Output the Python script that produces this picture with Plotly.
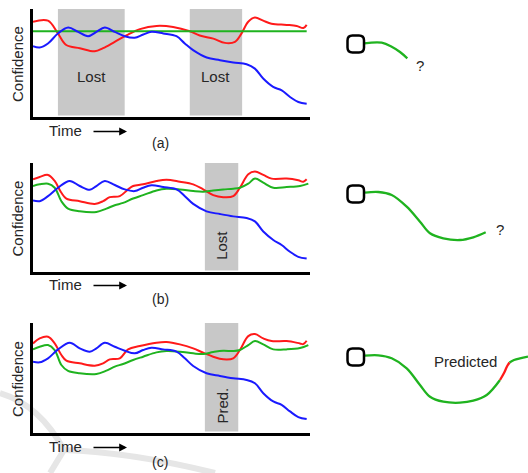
import plotly.graph_objects as go

W, H = 528, 473

# ---------------- time-series data (time 0..100, confidence 0..1) ----------------
# Panel (a)
a_red_t = [0, 5.4, 9.0, 12.0, 16.9, 22.3, 25.3, 29.5, 33.7, 38.6, 44.6, 50.6, 56.6, 60.2, 65.1, 69.3, 72.9, 75.3, 77.7, 80.1, 83.1, 86.1, 91.6, 95.2, 97.6, 98.8]
a_red_c = [0.90, 0.91, 0.79, 0.68, 0.65, 0.62, 0.65, 0.71, 0.77, 0.83, 0.86, 0.85, 0.81, 0.77, 0.74, 0.70, 0.71, 0.79, 0.90, 0.94, 0.91, 0.88, 0.87, 0.86, 0.84, 0.87]
a_green_t = [0, 98.8]
a_green_c = [0.81, 0.81]
a_blue_t = [0, 2.4, 5.4, 9.0, 12.7, 16.3, 19.9, 22.9, 25.9, 29.5, 33.1, 36.7, 39.8, 42.8, 47.0, 51.8, 54.8, 57.8, 62.7, 67.5, 72.3, 77.1, 80.1, 83.1, 86.7, 89.8, 92.8, 95.8, 98.8]
a_blue_c = [0.669, 0.656, 0.694, 0.789, 0.845, 0.804, 0.763, 0.804, 0.845, 0.804, 0.763, 0.748, 0.779, 0.804, 0.789, 0.763, 0.694, 0.631, 0.562, 0.536, 0.514, 0.498, 0.457, 0.363, 0.284, 0.252, 0.189, 0.142, 0.126]
a_boxes = [(9.0, 33.1, "Lost"), (56.6, 75.5, "Lost")]

# Panel (b)  (values in zoom-pixel units, converted below)
b_red_x = [100, 120, 145, 165, 185, 200, 240, 285, 310, 330, 360, 385, 400, 430, 470, 500, 540, 580, 610, 640, 670, 700, 720, 745, 765, 790, 815, 860, 895, 910, 920]
b_red_y = [75, 68, 62, 80, 115, 132, 140, 148, 140, 128, 125, 105, 95, 90, 80, 76, 82, 90, 105, 122, 128, 125, 100, 60, 52, 62, 73, 73, 78, 82, 75]
b_green_x = [100, 120, 145, 165, 185, 205, 240, 290, 320, 345, 370, 400, 430, 470, 500, 540, 580, 610, 640, 670, 700, 720, 745, 765, 790, 820, 860, 900, 925]
b_green_y = [95, 90, 88, 100, 140, 162, 170, 172, 162, 152, 145, 132, 122, 108, 103, 105, 110, 112, 108, 105, 103, 100, 88, 73, 85, 100, 98, 95, 88]
b_blue_x = [100, 120, 145, 175, 210, 240, 270, 290, 315, 345, 375, 405, 430, 455, 490, 530, 555, 580, 620, 660, 700, 740, 765, 790, 820, 845, 870, 895, 920]
b_blue_y = [138, 140, 125, 100, 80, 95, 106, 95, 80, 92, 105, 110, 100, 93, 98, 105, 125, 148, 170, 178, 185, 190, 200, 230, 255, 270, 290, 305, 310]
b_boxes = [(615, 715, "Lost")]

# Panel (c)
c_red_x = [100, 120, 145, 165, 185, 200, 240, 285, 310, 330, 360, 385, 420, 470, 500, 540, 580, 610, 640, 670, 700, 720, 745, 765, 790, 815, 860, 900, 910, 920]
c_red_y = [100, 85, 80, 100, 135, 152, 160, 167, 160, 148, 145, 118, 108, 98, 96, 103, 115, 128, 140, 148, 145, 120, 78, 72, 85, 93, 93, 100, 102, 92]
c_green_x = [100, 120, 145, 165, 185, 205, 240, 290, 320, 345, 370, 400, 430, 470, 500, 540, 580, 610, 640, 670, 700, 720, 745, 765, 790, 820, 860, 900, 925]
c_green_y = [118, 110, 105, 120, 165, 183, 190, 192, 182, 170, 162, 150, 140, 127, 123, 125, 130, 132, 126, 122, 123, 120, 105, 93, 103, 118, 118, 114, 105]
c_blue_x = [100, 120, 145, 175, 210, 240, 270, 290, 315, 345, 375, 405, 430, 455, 490, 530, 555, 580, 620, 660, 700, 740, 765, 790, 820, 845, 870, 895, 920]
c_blue_y = [155, 157, 145, 118, 98, 115, 125, 115, 98, 110, 122, 130, 120, 113, 118, 125, 145, 168, 190, 198, 205, 210, 220, 250, 275, 285, 305, 322, 328]
c_boxes = [(615, 715, "Pred.")]

# ---------------- trajectory data (page pixel units) ----------------
traj_a_x = [364.3, 381.7, 391.7, 400.0, 407.3]
traj_a_y = [43.3, 42.7, 46.7, 52.0, 58.3]
traj_b_x = [365.0, 378.3, 391.7, 406.7, 420.0, 430.0, 443.3, 460.0, 473.3, 485.7]
traj_b_y = [192.7, 192.0, 195.0, 206.7, 221.7, 233.3, 238.3, 240.0, 237.3, 232.3]
traj_c_x = [364.3, 378.3, 391.7, 406.7, 420.0, 430.0, 443.3, 460.0, 473.3, 486.7, 500.0]
traj_c_y = [355.7, 355.3, 358.3, 368.3, 385.0, 396.7, 401.7, 402.7, 400.7, 395.0, 380.0]
pred_c_x = [500.0, 504.0, 507.0, 509.5]
pred_c_y = [380.0, 373.0, 366.5, 362.5]
after_c_x = [509.5, 514.0, 520.0, 528.0]
after_c_y = [362.5, 360.0, 358.3, 356.7]

RED, GREEN, BLUE = "#ff1a1a", "#1fb31f", "#1a1aff"
BOXGREY = "#c8c8c8"
FONT = "Liberation Sans, Arial, sans-serif"
TXT = "#262626"


def zx_to_t(v):
    return [(x - 100) / 8.3 for x in v]


def zy_to_c(v, bottom, span):
    return [(bottom - y) / span for y in v]


panels = [
    dict(top=11, bottom=117,
         series=[(a_red_t, a_red_c, RED), (a_green_t, a_green_c, GREEN), (a_blue_t, a_blue_c, BLUE)],
         boxes=a_boxes, label="(a)", lab_y=143, time_y=130, rot=False),
    dict(top=165, bottom=272,
         series=[(zx_to_t(b_red_x), zy_to_c(b_red_y, 350, 317), RED),
                 (zx_to_t(b_green_x), zy_to_c(b_green_y, 350, 317), GREEN),
                 (zx_to_t(b_blue_x), zy_to_c(b_blue_y, 350, 317), BLUE)],
         boxes=[(zx_to_t([b[0]])[0], zx_to_t([b[1]])[0], b[2]) for b in b_boxes],
         label="(b)", lab_y=299, time_y=284, rot=True),
    dict(top=325, bottom=433,
         series=[(zx_to_t(c_red_x), zy_to_c(c_red_y, 370, 325), RED),
                 (zx_to_t(c_green_x), zy_to_c(c_green_y, 370, 325), GREEN),
                 (zx_to_t(c_blue_x), zy_to_c(c_blue_y, 370, 325), BLUE)],
         boxes=[(zx_to_t([b[0]])[0], zx_to_t([b[1]])[0], b[2]) for b in c_boxes],
         label="(c)", lab_y=462, time_y=446, rot=True),
]

fig = go.Figure()
shapes = []
annotations = []

# faint watermark arcs (decoration)
shapes.append(dict(type="path", xref="paper", yref="paper", layer="below",
                   path="M 0 %f Q %f %f %f %f" % (1 - 393 / H, 40 / W, 1 - 405 / H, 64 / W, 1 - 450 / H),
                   line=dict(color="#e6e6e6", width=6)))
shapes.append(dict(type="path", xref="paper", yref="paper", layer="below",
                   path="M %f %f Q %f %f %f %f" % (64 / W, 1 - 450 / H, 130 / W, 1 - 452 / H, 215 / W, 1 - 473 / H),
                   line=dict(color="#e6e6e6", width=6)))
shapes.append(dict(type="path", xref="paper", yref="paper", layer="below",
                   path="M %f %f L %f %f" % (64 / W, 1 - 450 / H, 50 / W, 1 - 473 / H),
                   line=dict(color="#e6e6e6", width=6)))

for i, p in enumerate(panels, start=1):
    xa = "xaxis" if i == 1 else "xaxis%d" % i
    ya = "yaxis" if i == 1 else "yaxis%d" % i
    xr = "x" if i == 1 else "x%d" % i
    yr = "y" if i == 1 else "y%d" % i
    fig.update_layout({
        xa: dict(domain=[33 / W, 310 / W], range=[0, 100], showline=True, linecolor="black", linewidth=2.5,
                 showgrid=False, zeroline=False, showticklabels=False, ticks="", anchor=yr, fixedrange=True),
        ya: dict(domain=[1 - p["bottom"] / H, 1 - (p["top"] - 2) / H], range=[0, 1.02], showline=True,
                 linecolor="black", linewidth=2.5, showgrid=False, zeroline=False, showticklabels=False,
                 ticks="", anchor=xr, fixedrange=True),
    })
    for (t0, t1, txt) in p["boxes"]:
        shapes.append(dict(type="rect", xref=xr, yref=yr, x0=t0, x1=t1, y0=0.015, y1=1.02,
                           fillcolor=BOXGREY, line=dict(width=0), layer="below"))
        annotations.append(dict(xref=xr, yref=yr, x=(t0 + t1) / 2, y=0.38 if not p["rot"] else 0.25,
                                text=txt, showarrow=False, textangle=-90 if p["rot"] else 0,
                                xanchor="center", yanchor="middle",
                                font=dict(family=FONT, size=15, color=TXT)))
    for (tx, cy, col) in p["series"]:
        fig.add_trace(go.Scatter(x=tx, y=cy, mode="lines", xaxis=xr, yaxis=yr,
                                 line=dict(color=col, width=2, shape="spline", smoothing=1.0),
                                 showlegend=False, hoverinfo="skip"))
    # axis titles
    annotations.append(dict(xref="x4", yref="y4", x=17, y=(p["top"] + p["bottom"]) / 2,
                            text="Confidence", showarrow=False, textangle=-90,
                            xanchor="center", yanchor="middle",
                            font=dict(family=FONT, size=15, color=TXT)))
    annotations.append(dict(xref="x4", yref="y4", x=65, y=p["time_y"],
                            text="Time", showarrow=False, xanchor="center", yanchor="middle",
                            font=dict(family=FONT, size=15, color=TXT)))
    annotations.append(dict(xref="x4", yref="y4", x=127, y=p["time_y"] + 1.5,
                            ax=92, ay=p["time_y"] + 1.5, axref="x4", ayref="y4",
                            text="", showarrow=True, arrowhead=2, arrowsize=1.2, arrowwidth=1.3,
                            arrowcolor="black"))
    annotations.append(dict(xref="x4", yref="y4", x=160, y=p["lab_y"],
                            text=p["label"], showarrow=False, xanchor="center", yanchor="middle",
                            font=dict(family=FONT, size=14, color=TXT)))

# overlay axis for trajectory sketches (page pixel units)
fig.update_layout(
    xaxis4=dict(domain=[0, 1], range=[0, W], visible=False, anchor="y4", fixedrange=True),
    yaxis4=dict(domain=[0, 1], range=[H, 0], visible=False, anchor="x4", fixedrange=True),
)
for tx, ty, col in [(traj_a_x, traj_a_y, GREEN), (traj_b_x, traj_b_y, GREEN), (traj_c_x, traj_c_y, GREEN),
                    (pred_c_x, pred_c_y, RED), (after_c_x, after_c_y, GREEN)]:
    fig.add_trace(go.Scatter(x=tx, y=ty, mode="lines", xaxis="x4", yaxis="y4",
                             line=dict(color=col, width=2.3, shape="spline", smoothing=1.0),
                             showlegend=False, hoverinfo="skip"))

# robot "O" glyphs at the start of each trajectory
robot_tops = [35.5, 185.5, 348.5]
for top in robot_tops:
    x0, x1, y0, y1, r = 347.5, 364, top, top + 17, 5
    path = ("M %f %f L %f %f Q %f %f %f %f L %f %f Q %f %f %f %f L %f %f Q %f %f %f %f L %f %f Q %f %f %f %f Z" %
            (x0 + r, y0, x1 - r, y0, x1, y0, x1, y0 + r, x1, y1 - r, x1, y1, x1 - r, y1,
             x0 + r, y1, x0, y1, x0, y1 - r, x0, y0 + r, x0, y0, x0 + r, y0))
    shapes.append(dict(type="path", xref="x4", yref="y4", path=path, line=dict(color="black", width=2.5)))

annotations.append(dict(xref="x4", yref="y4", x=420, y=65, text="?", showarrow=False,
                        font=dict(family=FONT, size=15, color=TXT)))
annotations.append(dict(xref="x4", yref="y4", x=500, y=229, text="?", showarrow=False,
                        font=dict(family=FONT, size=15, color=TXT)))
annotations.append(dict(xref="x4", yref="y4", x=465, y=361, text="Predicted", showarrow=False,
                        font=dict(family=FONT, size=15, color=TXT)))

fig.update_layout(width=W, height=H, margin=dict(l=0, r=0, t=0, b=0),
                  paper_bgcolor="white", plot_bgcolor="rgba(0,0,0,0)",
                  shapes=shapes, annotations=annotations, showlegend=False)

fig.write_html("out.html", config={"displayModeBar": False},
               post_script="document.body.style.margin='0';document.body.style.overflow='hidden';")
